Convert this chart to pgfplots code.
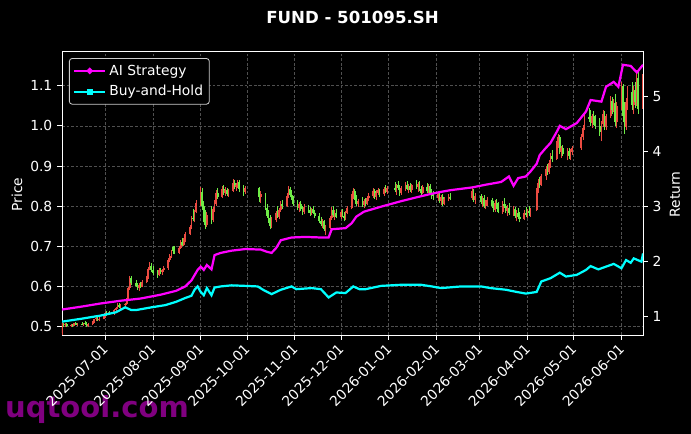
\documentclass[border=0pt]{standalone}
\usepackage{fontspec}
\setmainfont{DejaVu Sans}
\usepackage{pgfplots}
\usepackage{pgfplotstable}
\pgfplotsset{compat=1.18}
\definecolor{cup}{RGB}{235,75,65}
\definecolor{cdn}{RGB}{110,235,70}
\definecolor{gridc}{RGB}{80,80,80}
\definecolor{wm}{RGB}{128,0,128}
\definecolor{legc}{RGB}{204,204,204}
\definecolor{mag}{RGB}{255,0,255}
\definecolor{cya}{RGB}{0,255,255}

\pgfplotstableread{
d o h l c
-28 0.485 0.512 0.480 0.508
-27 0.508 0.510 0.500 0.503
-26 0.503 0.509 0.500 0.506
-25 0.506 0.508 0.499 0.501
-22 0.501 0.506 0.498 0.504
-21 0.504 0.507 0.500 0.502
-20 0.502 0.510 0.501 0.508
-19 0.508 0.511 0.503 0.505
-18 0.505 0.509 0.502 0.507
-15 0.507 0.512 0.503 0.504
-14 0.504 0.510 0.502 0.509
-13 0.509 0.513 0.505 0.506
-12 0.506 0.511 0.500 0.502
-11 0.502 0.508 0.499 0.506
-8 0.506 0.514 0.504 0.512
-7 0.512 0.520 0.510 0.518
-6 0.518 0.528 0.515 0.521
-5 0.521 0.524 0.514 0.516
-4 0.516 0.523 0.513 0.520
-1 0.520 0.527 0.518 0.525
0 0.525 0.536 0.522 0.533
1 0.533 0.538 0.527 0.530
2 0.530 0.537 0.528 0.535
3 0.535 0.540 0.530 0.532
6 0.532 0.545 0.530 0.542
7 0.542 0.550 0.538 0.547
8 0.547 0.558 0.544 0.555
9 0.555 0.560 0.546 0.549
10 0.549 0.556 0.545 0.553
13 0.553 0.560 0.549 0.557
14 0.557 0.572 0.555 0.568
15 0.568 0.600 0.566 0.596
16 0.596 0.627 0.592 0.620
17 0.620 0.625 0.604 0.609
20 0.609 0.617 0.598 0.602
21 0.602 0.610 0.592 0.596
22 0.596 0.608 0.590 0.604
23 0.604 0.612 0.597 0.600
24 0.600 0.615 0.598 0.612
27 0.612 0.626 0.608 0.622
28 0.622 0.648 0.619 0.644
29 0.644 0.662 0.640 0.652
30 0.652 0.658 0.636 0.640
31 0.640 0.650 0.628 0.634
34 0.634 0.642 0.622 0.628
35 0.628 0.645 0.625 0.640
36 0.640 0.646 0.630 0.636
37 0.636 0.644 0.629 0.641
38 0.641 0.650 0.636 0.645
41 0.645 0.672 0.642 0.666
42 0.666 0.682 0.660 0.676
43 0.676 0.690 0.672 0.686
44 0.698 0.702 0.682 0.688
45 0.688 0.700 0.680 0.684
48 0.684 0.700 0.682 0.697
49 0.697 0.716 0.694 0.710
50 0.710 0.722 0.700 0.704
51 0.704 0.720 0.700 0.716
52 0.716 0.735 0.712 0.730
55 0.730 0.752 0.728 0.748
56 0.748 0.775 0.742 0.770
57 0.770 0.792 0.762 0.768
58 0.768 0.790 0.760 0.785
59 0.785 0.815 0.782 0.808
62 0.808 0.847 0.800 0.835
63 0.835 0.845 0.790 0.800
64 0.800 0.812 0.760 0.772
65 0.772 0.790 0.742 0.752
66 0.752 0.785 0.748 0.778
69 0.778 0.800 0.755 0.765
70 0.765 0.798 0.760 0.792
71 0.792 0.815 0.785 0.806
72 0.806 0.840 0.800 0.832
73 0.832 0.845 0.818 0.824
76 0.824 0.850 0.820 0.842
77 0.842 0.852 0.828 0.834
78 0.834 0.848 0.826 0.840
79 0.840 0.845 0.825 0.830
80 0.830 0.842 0.824 0.838
83 0.838 0.868 0.835 0.858
84 0.858 0.866 0.842 0.848
85 0.848 0.858 0.838 0.852
86 0.852 0.865 0.845 0.860
87 0.860 0.864 0.835 0.842
90 0.842 0.852 0.826 0.835
91 0.835 0.850 0.830 0.845
100 0.845 0.848 0.810 0.822
101 0.822 0.838 0.808 0.830
104 0.830 0.832 0.790 0.796
105 0.796 0.805 0.770 0.776
106 0.776 0.790 0.758 0.770
107 0.770 0.778 0.742 0.750
108 0.750 0.772 0.745 0.766
111 0.766 0.788 0.760 0.782
112 0.782 0.800 0.770 0.774
113 0.774 0.796 0.768 0.790
114 0.790 0.812 0.786 0.806
115 0.806 0.815 0.794 0.800
118 0.800 0.832 0.798 0.826
119 0.826 0.850 0.820 0.842
120 0.842 0.848 0.822 0.828
121 0.828 0.840 0.815 0.820
122 0.820 0.826 0.800 0.806
125 0.806 0.815 0.790 0.796
126 0.796 0.810 0.785 0.805
127 0.805 0.812 0.788 0.792
128 0.792 0.800 0.778 0.785
129 0.785 0.805 0.780 0.798
132 0.798 0.802 0.784 0.790
133 0.790 0.798 0.776 0.782
134 0.782 0.796 0.778 0.792
135 0.792 0.800 0.780 0.784
136 0.784 0.790 0.770 0.776
139 0.776 0.782 0.758 0.764
140 0.764 0.772 0.750 0.756
141 0.756 0.768 0.745 0.762
142 0.762 0.765 0.738 0.742
143 0.742 0.752 0.728 0.746
146 0.746 0.775 0.742 0.770
147 0.770 0.798 0.765 0.790
148 0.790 0.800 0.772 0.778
149 0.778 0.790 0.766 0.784
150 0.784 0.792 0.770 0.774
153 0.774 0.790 0.768 0.786
154 0.786 0.792 0.772 0.776
155 0.776 0.785 0.762 0.770
156 0.770 0.788 0.766 0.784
157 0.784 0.800 0.780 0.796
160 0.796 0.830 0.792 0.824
161 0.824 0.845 0.818 0.838
162 0.838 0.842 0.815 0.820
163 0.820 0.828 0.800 0.806
164 0.806 0.818 0.798 0.812
167 0.812 0.822 0.798 0.802
168 0.802 0.818 0.795 0.814
169 0.814 0.820 0.800 0.806
170 0.806 0.825 0.802 0.820
171 0.820 0.832 0.812 0.826
174 0.826 0.845 0.820 0.838
175 0.838 0.842 0.818 0.824
176 0.824 0.840 0.815 0.834
177 0.834 0.846 0.828 0.840
178 0.840 0.844 0.822 0.830
181 0.830 0.848 0.826 0.842
182 0.842 0.852 0.832 0.836
183 0.836 0.850 0.830 0.846
188 0.846 0.860 0.835 0.840
189 0.840 0.856 0.828 0.852
190 0.852 0.862 0.840 0.845
191 0.845 0.852 0.826 0.832
192 0.832 0.850 0.828 0.846
195 0.846 0.860 0.838 0.854
196 0.854 0.862 0.840 0.844
197 0.844 0.855 0.832 0.850
198 0.850 0.858 0.836 0.840
199 0.840 0.856 0.834 0.852
202 0.852 0.864 0.842 0.848
203 0.848 0.860 0.836 0.856
204 0.856 0.862 0.838 0.842
205 0.842 0.850 0.826 0.834
206 0.834 0.852 0.830 0.848
209 0.848 0.858 0.832 0.838
210 0.838 0.856 0.834 0.850
211 0.850 0.855 0.828 0.832
212 0.832 0.842 0.818 0.826
213 0.826 0.838 0.815 0.820
216 0.820 0.836 0.812 0.830
217 0.830 0.834 0.808 0.814
218 0.814 0.828 0.802 0.822
219 0.822 0.830 0.800 0.806
220 0.806 0.824 0.802 0.818
223 0.818 0.830 0.812 0.824
224 0.824 0.834 0.815 0.820
238 0.820 0.845 0.815 0.838
239 0.838 0.842 0.810 0.815
240 0.815 0.832 0.806 0.826
244 0.826 0.830 0.805 0.810
245 0.810 0.825 0.798 0.820
246 0.820 0.828 0.795 0.800
247 0.800 0.815 0.792 0.808
248 0.808 0.822 0.800 0.816
251 0.816 0.820 0.795 0.800
252 0.800 0.812 0.785 0.790
253 0.790 0.815 0.786 0.808
254 0.808 0.818 0.794 0.798
255 0.798 0.810 0.782 0.786
258 0.786 0.812 0.780 0.806
259 0.806 0.820 0.796 0.800
260 0.800 0.806 0.782 0.788
261 0.788 0.802 0.775 0.796
262 0.796 0.808 0.778 0.782
265 0.782 0.800 0.775 0.794
266 0.794 0.798 0.770 0.776
267 0.776 0.790 0.762 0.784
268 0.784 0.796 0.768 0.772
269 0.772 0.785 0.760 0.768
272 0.768 0.790 0.765 0.784
273 0.784 0.798 0.772 0.778
274 0.778 0.792 0.770 0.788
275 0.788 0.800 0.776 0.782
276 0.782 0.796 0.774 0.790
280 0.790 0.846 0.788 0.838
281 0.838 0.868 0.832 0.858
282 0.858 0.872 0.845 0.852
283 0.852 0.880 0.850 0.874
286 0.874 0.900 0.866 0.892
287 0.892 0.905 0.878 0.884
288 0.884 0.915 0.880 0.908
289 0.908 0.932 0.896 0.924
290 0.924 0.940 0.910 0.918
293 0.918 0.962 0.915 0.955
294 0.955 0.980 0.946 0.972
295 0.972 0.978 0.930 0.936
296 0.936 0.950 0.920 0.944
297 0.944 0.952 0.925 0.930
300 0.930 0.946 0.914 0.938
301 0.938 0.944 0.918 0.924
302 0.924 0.942 0.916 0.936
303 0.936 0.950 0.928 0.944
309 0.944 0.980 0.940 0.972
310 0.972 1.002 0.966 0.995
311 0.995 1.030 0.990 1.022
314 1.022 1.045 1.010 1.018
315 1.018 1.040 1.000 1.006
316 1.006 1.030 0.995 1.024
317 1.024 1.038 1.002 1.010
318 1.010 1.028 0.992 1.000
321 1.000 1.020 0.975 0.985
322 0.985 1.012 0.962 1.004
323 1.004 1.040 0.998 1.030
324 1.030 1.036 0.990 0.996
325 0.996 1.030 0.990 1.024
328 1.024 1.075 1.020 1.062
329 1.062 1.072 1.030 1.040
330 1.040 1.068 1.035 1.058
331 1.058 1.080 1.000 1.010
332 1.010 1.060 0.995 1.050
335 1.050 1.110 1.040 1.098
336 1.098 1.105 1.010 1.024
337 1.024 1.060 0.980 0.998
338 0.998 1.070 0.990 1.060
339 1.060 1.100 1.040 1.085
342 1.085 1.110 1.040 1.052
343 1.052 1.100 1.030 1.090
344 1.090 1.108 1.045 1.060
345 1.060 1.140 1.050 1.120
346 1.120 1.135 1.030 1.042
349 1.042 1.145 1.035 1.130
}\candles

\begin{document}
\begin{tikzpicture}
\fill[black] (0,0) rectangle (497.52bp,312.48bp);
\useasboundingbox (0,0) rectangle (497.52bp,312.48bp);
\node[text=wm, font=\fontsize{21}{25}\selectfont\bfseries] at (69.8bp,18bp) {uqtool.com};
\node[text=white, font=\fontsize{12}{14}\selectfont\bfseries] at (253.8bp,299.9bp) {FUND - 501095.SH};
\node[text=white, rotate=90, font=\fontsize{10}{12}\selectfont] at (12.24bp,172.5bp) {Price};
\node[text=white, rotate=90, font=\fontsize{10}{12}\selectfont] at (486bp,172.5bp) {Return};

\begin{axis}[
  at={(44.64bp,71.28bp)}, anchor=south west,
  scale only axis, width=418.32bp, height=204.48bp,
  xmin=-28, xmax=349, ymin=0.4793, ymax=1.1864,
  axis line style={white, line width=0.6pt},
  tick align=outside, major tick length=3.5pt,
  major tick style={white, line width=0.6pt},
  xtick pos=bottom, ytick pos=left,
  xtick={0,31,62,92,123,153,184,215,243,274,304,335},
  xticklabels={2025-07-01,2025-08-01,2025-09-01,2025-10-01,2025-11-01,2025-12-01,2026-01-01,2026-02-01,2026-03-01,2026-04-01,2026-05-01,2026-06-01},
  xticklabel style={xshift=-2.5bp, rotate=45, anchor=north east, text=white, font=\fontsize{10}{12}\selectfont, inner sep=1.5pt},
  ytick={0.5,0.6,0.7,0.8,0.9,1.0,1.1},
  yticklabel style={text=white, font=\fontsize{10}{12}\selectfont, /pgf/number format/.cd, fixed, fixed zerofill, precision=1, assume math mode=true},
  grid=major,
  major grid style={gridc, line width=0.4pt, dash pattern=on 2pt off 1.3pt},
  colormap={updown}{color=(cdn) color=(cup)},
  point meta min=0, point meta max=1,
]
\addplot[line width=0.55pt, point meta=explicit,
  quiver={u=0, v=\thisrow{h}-\thisrow{l}, colored}]
  table[x=d, y=l, meta expr={\thisrow{c}>=\thisrow{o}}] {\candles};
\addplot[line width=1.3pt, point meta=explicit,
  quiver={u=0, v=\thisrow{c}-\thisrow{o}, colored}]
  table[x=d, y=o, meta expr={\thisrow{c}>=\thisrow{o}}] {\candles};
\end{axis}

\begin{axis}[
  at={(44.64bp,71.28bp)}, anchor=south west,
  scale only axis, width=418.32bp, height=204.48bp,
  xmin=-28, xmax=349, ymin=0.667, ymax=5.831,
  axis y line*=right, axis x line=none,
  axis line style={white, line width=0.6pt},
  tick align=outside, major tick length=3.5pt,
  major tick style={white, line width=0.6pt},
  ytick={1,2,3,4,5},
  yticklabel style={text=white, font=\fontsize{10}{12}\selectfont, /pgf/number format/assume math mode=true},
  legend image code/.code={\draw[mark repeat=2,mark phase=2,#1] plot coordinates {(0cm,0cm) (0.4cm,0cm) (0.8cm,0cm)};},
  legend style={at={(0.012,0.975)}, anchor=north west, fill=black, draw=legc, text=white,
    rounded corners=2pt, font=\fontsize{10}{12}\selectfont, line width=0.6pt, inner sep=2.5pt, row sep=2pt},
  legend cell align=left,
]
\addlegendimage{mag, line width=1.6pt, mark=*, mark size=1.4pt, mark options={solid}}
\addlegendentry{AI Strategy}
\addlegendimage{cya, line width=1.6pt, mark=square*, mark size=1.4pt, mark options={solid}}
\addlegendentry{Buy-and-Hold}
\addplot[mag, line width=1.6pt, forget plot] coordinates {
(-28,1.13) (-16,1.18) (-3,1.24) (10,1.29) (23,1.33) (36,1.40) (46,1.47) (52,1.55)
(56,1.66) (60,1.85) (62,1.91) (64,1.85) (66,1.94) (69,1.86) (71,2.12) (75,2.16)
(82,2.20) (91,2.23) (101,2.22) (105,2.18) (108,2.16) (111,2.25) (114,2.39) (121,2.44)
(130,2.45) (140,2.44) (145,2.44) (147,2.59) (156,2.61) (160,2.70) (163,2.82) (168,2.91)
(179,3.00) (192,3.10) (202,3.17) (211,3.23) (218,3.27) (224,3.30) (238,3.35) (247,3.40)
(257,3.45) (262,3.55) (265,3.38) (268,3.52) (273,3.55) (276,3.64) (280,3.78) (282,3.94)
(286,4.07) (289,4.16) (293,4.36) (295,4.47) (299,4.41) (306,4.52) (312,4.73) (315,4.94)
(322,4.91) (325,5.18) (330,5.27) (333,5.18) (336,5.58) (341,5.56) (345,5.44) (349,5.58)
};
\addplot[cya, line width=1.6pt, forget plot] coordinates {
(-28,0.91) (-16,0.96) (-3,1.02) (7,1.08) (13,1.17) (17,1.12) (20,1.12) (30,1.17)
(39,1.21) (46,1.27) (52,1.34) (56,1.38) (58,1.49) (60,1.55) (62,1.45) (64,1.39)
(66,1.52) (69,1.39) (71,1.53) (75,1.55) (82,1.57) (91,1.56) (99,1.55) (103,1.48)
(108,1.41) (114,1.49) (121,1.55) (124,1.50) (134,1.52) (140,1.50) (145,1.35) (150,1.44)
(156,1.43) (161,1.55) (165,1.50) (169,1.50) (179,1.56) (192,1.58) (205,1.58) (212,1.55)
(218,1.52) (231,1.55) (244,1.55) (250,1.52) (260,1.49) (267,1.45) (273,1.42) (280,1.45)
(283,1.64) (289,1.70) (295,1.80) (299,1.73) (306,1.76) (312,1.85) (315,1.92) (320,1.86)
(325,1.91) (330,1.96) (335,1.88) (338,2.03) (341,1.98) (343,2.06) (348,2.00) (349,2.15)
};
\end{axis}
\end{tikzpicture}
\end{document}
